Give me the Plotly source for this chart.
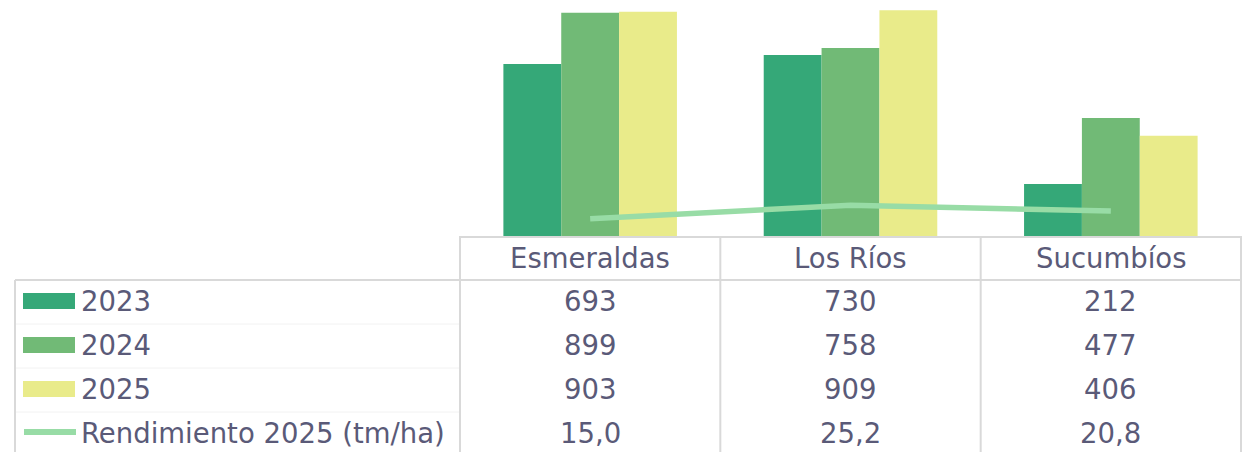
import plotly.graph_objects as go

# Datos
provincias = ['Esmeraldas', 'Los Ríos', 'Sucumbíos']
anios = ['2023', '2024', '2025']
prod_2023 = [693, 730, 212]
prod_2024 = [899, 758, 477]
prod_2025 = [903, 909, 406]
rendimiento_2025 = [15.0, 25.2, 20.8]
etiqueta_rend = 'Rendimiento 2025 (tm/ha)'

colores = ['#35A878', '#71BA76', '#E9EB8A']
color_linea = '#98DCA6'
color_texto = '#5A5A78'
color_borde = '#D9D9D9'
fuente = 'DejaVu Sans'
tam = 27.5

W, H = 1250, 452


def px(x):
    return x / W


def py(y):
    return 1 - y / H


series = [prod_2023, prod_2024, prod_2025]

fig = go.Figure()
for anio, valores, color in zip(anios, series, colores):
    fig.add_trace(go.Bar(name=anio, x=provincias, y=valores,
                         marker=dict(color=color, line=dict(width=0))))

fig.add_trace(go.Scatter(name=etiqueta_rend, x=provincias, y=rendimiento_2025,
                         mode='lines', yaxis='y2',
                         line=dict(color=color_linea, width=5.5)))

# Tabla de datos debajo del grafico
annotations = []
for p in provincias:
    annotations.append(dict(x=p, xref='x', y=py(258), yref='paper', text=p,
                            showarrow=False, yanchor='middle'))

filas_y = [301, 345, 389, 433]
filas = [[str(v) for v in s] for s in series]
filas.append([f'{v:.1f}'.replace('.', ',') for v in rendimiento_2025])
etiquetas = anios + [etiqueta_rend]
for fy, fila, etq in zip(filas_y, filas, etiquetas):
    for p, t in zip(provincias, fila):
        annotations.append(dict(x=p, xref='x', y=py(fy), yref='paper', text=t,
                                showarrow=False, yanchor='middle'))
    annotations.append(dict(x=px(79), xref='paper', y=py(fy), yref='paper',
                            text=etq, showarrow=False, xanchor='left',
                            yanchor='middle'))

shapes = []
linea = dict(color=color_borde, width=2)
# bordes horizontales
shapes.append(dict(type='line', xref='paper', yref='paper', x0=px(459), x1=px(1242),
                   y0=py(237), y1=py(237), line=linea))
shapes.append(dict(type='line', xref='paper', yref='paper', x0=px(15), x1=px(1242),
                   y0=py(280), y1=py(280), line=linea))
for fy in [324, 368, 412]:
    shapes.append(dict(type='line', xref='paper', yref='paper', x0=px(15), x1=px(459),
                       y0=py(fy), y1=py(fy), line=dict(color='#F2F2F2', width=1)))
# bordes verticales
shapes.append(dict(type='line', xref='paper', yref='paper', x0=px(15), x1=px(15),
                   y0=py(280), y1=0, line=linea))
for xb in [-0.5, 0.5, 1.5, 2.5]:
    shapes.append(dict(type='line', xref='x', yref='paper', x0=xb, x1=xb,
                       y0=py(237), y1=0, line=linea))

# claves de leyenda
for fy, color in zip(filas_y[:3], colores):
    shapes.append(dict(type='rect', xref='paper', yref='paper', x0=px(23), x1=px(75),
                       y0=py(fy - 8), y1=py(fy + 8), fillcolor=color,
                       line=dict(width=0)))
shapes.append(dict(type='line', xref='paper', yref='paper', x0=px(24), x1=px(76),
                   y0=py(432), y1=py(432), line=dict(color=color_linea, width=6)))

fig.update_layout(
    width=W, height=H,
    margin=dict(l=0, r=0, t=0, b=0),
    paper_bgcolor='white', plot_bgcolor='white',
    showlegend=False,
    barmode='group', bargap=1 / 3, bargroupgap=0,
    font=dict(family=fuente, size=tam, color=color_texto),
    xaxis=dict(domain=[px(459), px(1242)], showticklabels=False,
               showgrid=False, zeroline=False, showline=False),
    yaxis=dict(domain=[py(237), 1], range=[0, 950], visible=False),
    yaxis2=dict(overlaying='y', range=[1, 182], visible=False),
    annotations=annotations,
    shapes=shapes,
)

# sin margen del body para que la figura ocupe toda la ventana
fig.write_html('out.html', config={'displayModeBar': False},
               post_script="document.body.style.margin='0';")
